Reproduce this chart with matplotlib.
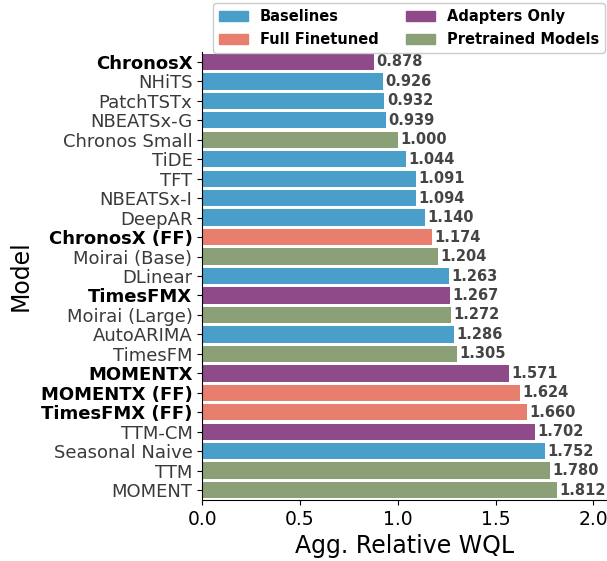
from matplotlib import pyplot as plt
from matplotlib.patches import Patch

models = ["ChronosX", "NHiTS", "PatchTSTx", "NBEATSx-G", "Chronos Small", "TiDE", "TFT",
          "NBEATSx-I", "DeepAR", "ChronosX (FF)", "Moirai (Base)", "DLinear", "TimesFMX",
          "Moirai (Large)", "AutoARIMA", "TimesFM", "MOMENTX", "MOMENTX (FF)",
          "TimesFMX (FF)", "TTM-CM", "Seasonal Naive", "TTM", "MOMENT"]
wql = [0.878, 0.926, 0.932, 0.939, 1.000, 1.044, 1.091, 1.094, 1.140, 1.174, 1.204,
       1.263, 1.267, 1.272, 1.286, 1.305, 1.571, 1.624, 1.660, 1.702, 1.752, 1.780, 1.812]
groups = ["Adapters Only", "Baselines", "Baselines", "Baselines", "Pretrained Models",
          "Baselines", "Baselines", "Baselines", "Baselines", "Full Finetuned",
          "Pretrained Models", "Baselines", "Adapters Only", "Pretrained Models",
          "Baselines", "Pretrained Models", "Adapters Only", "Full Finetuned",
          "Full Finetuned", "Adapters Only", "Baselines", "Pretrained Models",
          "Pretrained Models"]
bold_models = ["ChronosX", "ChronosX (FF)", "TimesFMX", "MOMENTX", "MOMENTX (FF)", "TimesFMX (FF)"]

palette = {
    "Baselines": "#4a9eca",
    "Full Finetuned": "#e87f6e",
    "Adapters Only": "#8e4a89",
    "Pretrained Models": "#8ca077",
}
legend_order = ["Baselines", "Full Finetuned", "Adapters Only", "Pretrained Models"]

fig = plt.figure(figsize=(6.07, 5.61), dpi=100)
ax = fig.add_axes([0.333, 0.109, 0.667, 0.798])

ypos = list(range(len(models)))
ax.barh(ypos, wql, height=0.84, color=[palette[g] for g in groups])
ax.set_ylim(len(models) - 0.5, -0.5)
ax.set_xlim(0, 2.07)
ax.set_xticks([0.0, 0.5, 1.0, 1.5, 2.0])
ax.set_yticks(ypos)
ax.set_yticklabels(models, fontsize=13)
for lbl in ax.get_yticklabels():
    if lbl.get_text() in bold_models:
        lbl.set_fontweight("bold")
        lbl.set_color("black")
    else:
        lbl.set_color("#3a3a3a")
ax.tick_params(axis="x", labelsize=13.5)

for y, v in zip(ypos, wql):
    ax.text(v + 0.012, y, f"{v:.3f}", va="center", ha="left",
            fontsize=10.5, fontweight="bold", color="#444444")

ax.set_xlabel("Agg. Relative WQL", fontsize=17)
ax.set_ylabel("Model", fontsize=17, labelpad=6)
ax.spines["top"].set_visible(False)
ax.spines["right"].set_visible(False)

handles = [Patch(color=palette[g], label=g) for g in legend_order]
ax.legend(handles=handles, ncol=2, loc="lower right", bbox_to_anchor=(0.995, 0.998),
          prop={"weight": "bold", "size": 10.5}, framealpha=1.0, borderaxespad=0.0,
          columnspacing=1.9, handlelength=2.0, labelspacing=0.55)

fig.savefig("out.png", dpi=100)
